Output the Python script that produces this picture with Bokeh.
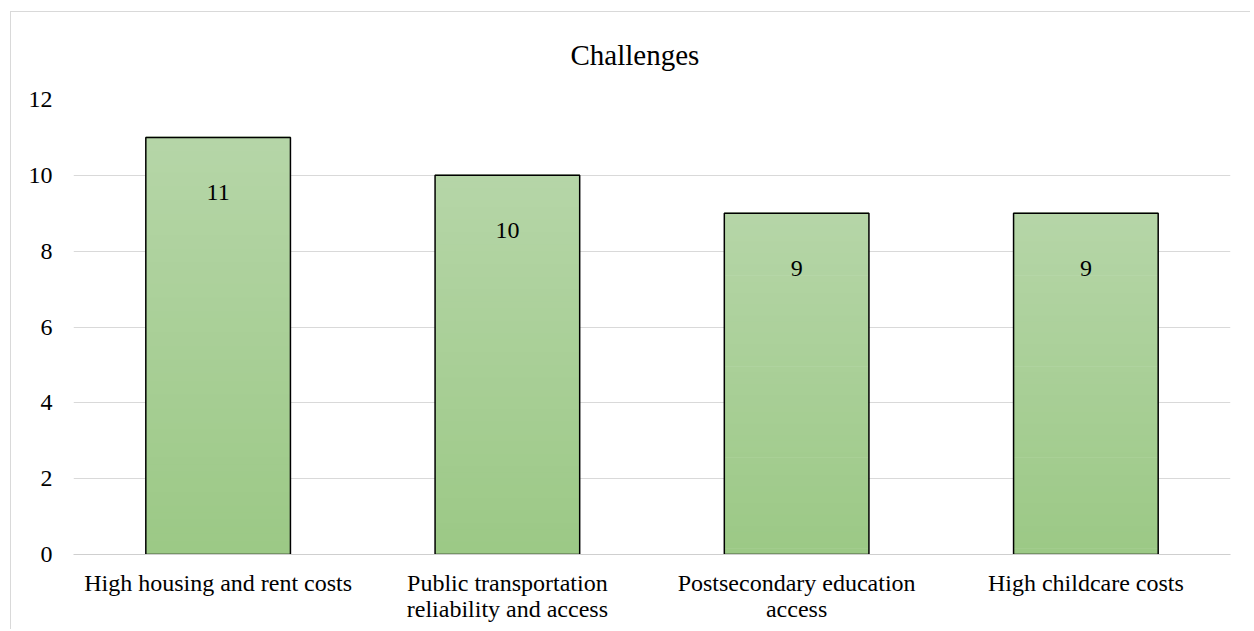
from bokeh.plotting import figure
from bokeh.models import FixedTicker, ColumnDataSource
from bokeh.core.properties import value
from bokeh.embed import file_html
from bokeh.resources import INLINE

categories = ["High housing and rent costs",
              "Public transportation\nreliability and access",
              "Postsecondary education\naccess",
              "High childcare costs"]
counts = [11, 10, 9, 9]
y_ticks = [0, 2, 4, 6, 8, 10, 12]
title_text = "Challenges"

FONT = "'Liberation Serif', 'Times New Roman', serif"
TOP_RGB = (0xb6, 0xd6, 0xa8)
BOT_RGB = (0x9c, 0xc9, 0x86)

p = figure(x_range=categories, y_range=(0, 12), width=1240, height=618,
           output_backend="svg", toolbar_location=None,
           min_border_left=62, min_border_right=21, min_border_top=86, min_border_bottom=76)
p.margin = (11, 0, 0, 10)
p.styles = {"border-left": "1px solid #d9d9d9", "border-top": "1px solid #d9d9d9"}

p.title.text = title_text
p.title.align = "left"
p.title.offset = 497
p.title.vertical_align = "top"
p.title.text_font = FONT
p.title.text_font_size = "29px"
p.title.text_font_style = "normal"
p.title.text_color = "#000000"
p.title.standoff = 53

# gradient bars built from slices of each bar's own height
N = 60
xs, bots, tops, cols = [], [], [], []
for c, v in zip(categories, counts):
    for k in range(N):
        t = (k + 0.5) / N
        r = int(BOT_RGB[0] + (TOP_RGB[0] - BOT_RGB[0]) * t)
        g = int(BOT_RGB[1] + (TOP_RGB[1] - BOT_RGB[1]) * t)
        b = int(BOT_RGB[2] + (TOP_RGB[2] - BOT_RGB[2]) * t)
        xs.append(c)
        bots.append(v * k / N)
        tops.append(v * (k + 1) / N + v * 0.002)
        cols.append("#%02x%02x%02x" % (r, g, b))
p.vbar(x=xs, bottom=bots, top=tops, width=0.5, fill_color=cols, line_color=None)

src = ColumnDataSource(dict(x=categories, top=counts, lab=[str(c) for c in counts]))
p.vbar(x="x", top="top", width=0.5, source=src, fill_color=None,
       line_color="#000000", line_width=1.5)
p.text(x="x", y="top", text="lab", source=src, y_offset=55,
       text_align="center", text_baseline="middle",
       text_font=value(FONT), text_font_size="24px", text_color="#000000")

p.xgrid.grid_line_color = None
p.ygrid.grid_line_color = "#d9d9d9"
p.ygrid.grid_line_width = 1.2
p.ygrid.ticker = FixedTicker(ticks=y_ticks)

p.yaxis.ticker = FixedTicker(ticks=y_ticks)
p.yaxis.axis_line_color = None
p.yaxis.major_tick_line_color = None
p.yaxis.minor_tick_line_color = None
p.yaxis.major_tick_out = 0
p.yaxis.major_label_standoff = 21
p.yaxis.major_label_text_font = FONT
p.yaxis.major_label_text_font_size = "24px"
p.yaxis.major_label_text_color = "#000000"

p.xaxis.axis_line_color = "#cfcfcf"
p.xaxis.axis_line_width = 1.2
p.xaxis.major_tick_line_color = None
p.xaxis.minor_tick_line_color = None
p.xaxis.major_tick_out = 0
p.xaxis.major_label_standoff = 15
p.xaxis.major_label_text_font = FONT
p.xaxis.major_label_text_font_size = "24px"
p.xaxis.major_label_text_color = "#000000"
p.xaxis.major_label_text_line_height = 1.0

p.outline_line_color = None
p.background_fill_color = "#ffffff"
p.border_fill_color = "#ffffff"

open("out.html", "w").write(file_html(p, INLINE))
